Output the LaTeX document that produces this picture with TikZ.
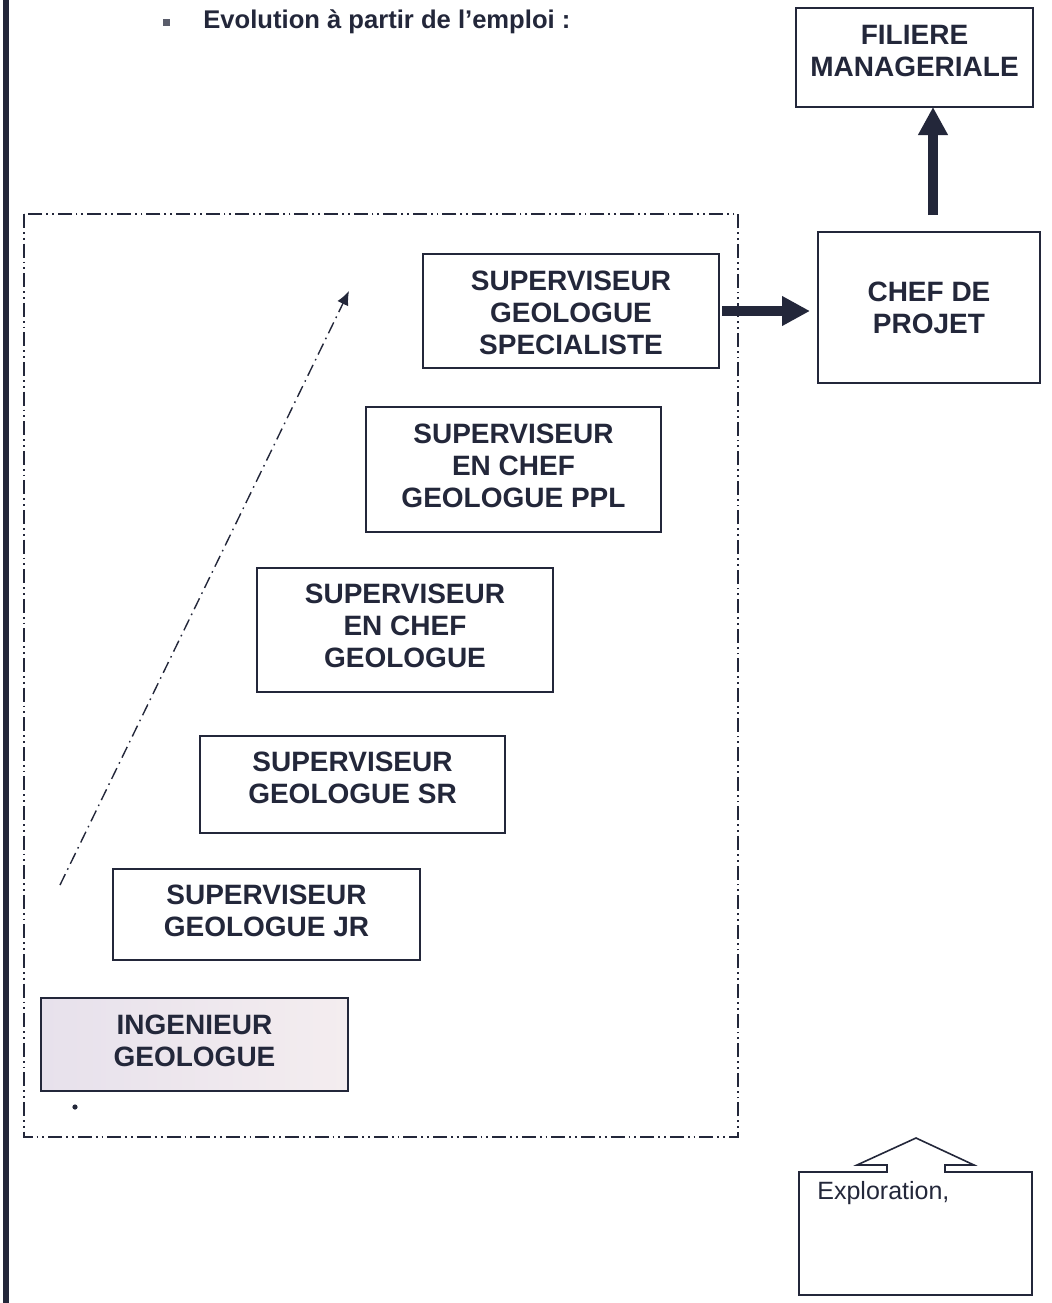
\documentclass[tikz,border=0pt]{standalone}
\usepackage{fontspec}
\setmainfont{Liberation Sans}
\usetikzlibrary{arrows.meta}
\definecolor{ink}{HTML}{23273A}
\definecolor{lilac}{HTML}{E7E1EC}
\definecolor{blush}{HTML}{F4EDEF}
\begin{document}
\begin{tikzpicture}[x=0.5pt,y=-0.5pt,
  box/.style={draw=ink,line width=1pt,inner sep=0pt,outer sep=0pt},
  boxtext/.style={align=center,text=ink,inner sep=0pt,
    font=\fontsize{14}{16}\selectfont\bfseries},
  title/.style 2 args={label={[boxtext,yshift=#1]center:#2}},
  bigarrow/.style={ink,line width=5pt,-{Triangle[width=14pt,length=14pt]}},
  frame/.style={draw=ink,line width=0.8pt,
    dash pattern=on 7pt off 2pt on 0.9pt off 2pt on 0.9pt off 2pt}
]
\useasboundingbox (0,0) rectangle (1052,1303);
\fill[white] (0,0) rectangle (1052,1303);

% dark bar along the left margin
\fill[ink] (3,0) rectangle (9,1303);

% heading with square bullet
\fill[ink!75] (163,19) rectangle (170,26);
\node[anchor=west,text=ink,font=\fontsize{12.8}{15}\selectfont\bfseries,inner sep=0pt] (head) at (203,22) {Evolution à partir de l’emploi :};

% dash-dot-dot frame round the career ladder
\draw[frame] (24,214) rectangle (738,1137);

% career ladder
\node[box,minimum width=153.5pt,minimum height=46.5pt,
  left color=lilac,right color=blush,title={2pt}{INGENIEUR\\GEOLOGUE}] (ing) at (194.5,1044.5) {};
\node[box,minimum width=153.5pt,minimum height=45.5pt,title={2pt}{SUPERVISEUR\\GEOLOGUE JR}] (jr) at (266.5,914.5) {};
\node[box,minimum width=152.5pt,minimum height=48.5pt,title={3.2pt}{SUPERVISEUR\\GEOLOGUE SR}] (sr) at (352.5,784.5) {};
\node[box,minimum width=148pt,minimum height=62pt,title={2pt}{SUPERVISEUR\\EN CHEF\\GEOLOGUE}] (chg) at (405,630) {};
\node[box,minimum width=147.5pt,minimum height=62.5pt,title={2pt}{SUPERVISEUR\\EN CHEF\\GEOLOGUE PPL}] (ppl) at (513.5,469.5) {};
\node[box,minimum width=148pt,minimum height=57pt,title={-0.8pt}{SUPERVISEUR\\GEOLOGUE\\SPECIALISTE}] (spec) at (571,311) {};

% management path
\node[box,minimum width=111pt,minimum height=75.5pt,title={0pt}{CHEF DE\\PROJET}] (chef) at (929,307.5) {};
\node[box,minimum width=118.5pt,minimum height=49.5pt,title={3.2pt}{FILIERE\\MANAGERIALE}] (fil) at (914.5,57.5) {};

\draw[bigarrow,shorten <=1.5pt,shorten >=4pt] (spec.east) -- (chef.west |- spec.east);
\draw[bigarrow,shorten <=8.5pt] (chef.north -| 933,0) -- (fil.south -| 933,0);

% rising trend line
\coordinate (rise0) at (60,885);
\coordinate (rise1) at (349,291);
\draw[ink,line width=0.7pt,dash pattern=on 6pt off 2.5pt on 0.8pt off 2.5pt,
  -{Latex[length=7pt,width=6pt]}] (rise0) -- (rise1);

\fill[ink] (75,1107) circle (1.3pt);

% open block arrow sitting on the exploration box
\node[anchor=west,inner sep=0pt,text=ink,font=\fontsize{12.5}{15}\selectfont] (expl) at (817,1193) {Exploration,};
\draw[ink,line width=0.8pt,line join=miter]
  (799,1172) -- (887,1172) -- (887,1165) -- (857,1165) -- (916,1138)
  -- (974,1165) -- (945,1165) -- (945,1172) -- (1032,1172)
  -- (1032,1295) -- (799,1295) -- cycle;
\end{tikzpicture}
\end{document}
